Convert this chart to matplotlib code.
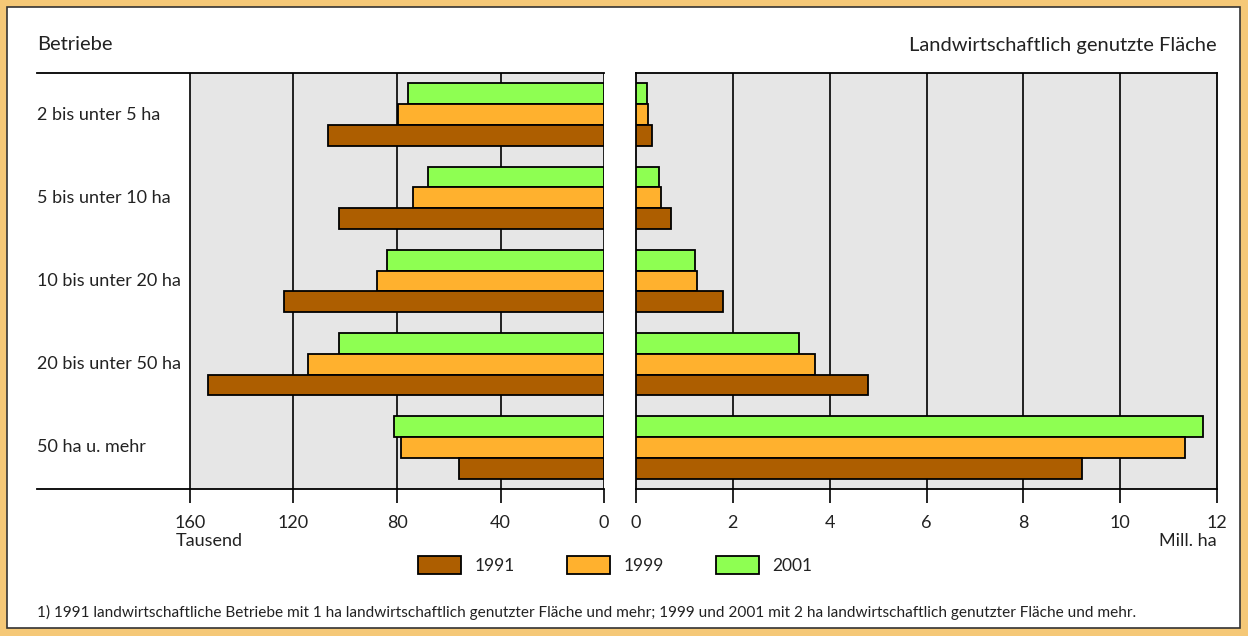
import matplotlib
matplotlib.use('Agg')
import matplotlib.pyplot as plt
import matplotlib.transforms as mtransforms
from matplotlib.patches import Rectangle, Patch
from matplotlib import font_manager as fm

# ---------------- data ----------------
categories = ["2 bis unter 5 ha", "5 bis unter 10 ha", "10 bis unter 20 ha",
              "20 bis unter 50 ha", "50 ha u. mehr"]
years = ["1991", "1999", "2001"]
# Betriebe (Tausend)
betriebe_1991 = [106.8, 102.5, 123.5, 153.2, 56.2]
betriebe_1999 = [79.5, 74.0, 87.6, 114.3, 78.3]
betriebe_2001 = [75.6, 67.9, 84.0, 102.5, 81.2]
# Landwirtschaftlich genutzte Fläche (Mill. ha)
flaeche_1991 = [0.33, 0.73, 1.80, 4.80, 9.21]
flaeche_1999 = [0.245, 0.51, 1.27, 3.69, 11.33]
flaeche_2001 = [0.23, 0.47, 1.22, 3.36, 11.71]
left_ticks = [160, 120, 80, 40, 0]
right_ticks = [0, 2, 4, 6, 8, 10, 12]
footnote = ("1) 1991 landwirtschaftliche Betriebe mit 1 ha landwirtschaftlich genutzter "
            "Fläche und mehr; 1999 und 2001 mit 2 ha landwirtschaftlich genutzter Fläche und mehr.")

# ---------------- style ----------------
W, H = 1248, 636
C_BROWN = '#AD5E00'
C_ORANGE = '#FFB12E'
C_GREEN = '#8EFF52'
C_GREY = '#E6E6E6'
C_FRAME = '#F5C877'
C_TEXT = '#222222'


def has_font(name):
    try:
        fm.findfont(fm.FontProperties(family=name), fallback_to_default=False)
        return True
    except Exception:
        return False

main_font = 'Lato' if has_font('Lato') else 'DejaVu Sans'
plt.rcParams['font.family'] = [main_font, 'DejaVu Sans']

fig = plt.figure(figsize=(W / 100, H / 100), dpi=100, facecolor=C_FRAME)
bg = Rectangle((7 / W, 1 - 628 / H), (1240 - 7) / W, (628 - 7) / H,
               transform=fig.transFigure, facecolor='white',
               edgecolor='#333333', lw=1.2, zorder=-10)
fig.patches.append(bg)

def fx(px):
    return px / W

def fy(py):
    return 1 - py / H

axL = fig.add_axes([fx(37), fy(489), 567 / W, 416 / H])
axR = fig.add_axes([fx(636), fy(489), 581 / W, 416 / H])

ypos = list(range(len(categories)))
bh = 0.25
series_left = [(betriebe_2001, C_GREEN, -bh), (betriebe_1999, C_ORANGE, 0.0), (betriebe_1991, C_BROWN, bh)]
series_right = [(flaeche_2001, C_GREEN, -bh), (flaeche_1999, C_ORANGE, 0.0), (flaeche_1991, C_BROWN, bh)]

lw = 1.3
# left panel
axL.set_facecolor('none')
axL.set_xlim(160 + (190 - 37) / ((604 - 190) / 160), 0)
axL.set_ylim(4.5, -0.5)
axL.axvspan(0, 160, color=C_GREY, zorder=0, lw=0)
for t in left_ticks:
    axL.axvline(t, color='black', lw=1.2, zorder=1)
for vals, col, off in series_left:
    axL.barh([y + off for y in ypos], vals, height=bh, color=col,
             edgecolor='black', linewidth=lw, zorder=3)
for s in ['left', 'right']:
    axL.spines[s].set_visible(False)
for s in ['top', 'bottom']:
    axL.spines[s].set_linewidth(1.3)
axL.set_yticks([])
axL.set_xticks(left_ticks)
axL.set_xticklabels([str(t) for t in left_ticks])
trans = mtransforms.blended_transform_factory(axL.transAxes, axL.transData)
for y, cat in zip(ypos, categories):
    axL.text(0.0, y, cat, transform=trans, ha='left', va='center', fontsize=13, color=C_TEXT)

# right panel
axR.set_facecolor(C_GREY)
axR.set_xlim(0, 12)
axR.set_ylim(4.5, -0.5)
for t in right_ticks[1:-1]:
    axR.axvline(t, color='black', lw=1.2, zorder=1)
for vals, col, off in series_right:
    axR.barh([y + off for y in ypos], vals, height=bh, color=col,
             edgecolor='black', linewidth=lw, zorder=3)
for s in axR.spines.values():
    s.set_linewidth(1.3)
axR.set_yticks([])
axR.set_xticks(right_ticks)
axR.set_xticklabels([str(t) for t in right_ticks])

for ax in (axL, axR):
    ax.tick_params(axis='x', direction='out', length=10, width=1.2, pad=9,
                   labelsize=13, labelcolor=C_TEXT)

# texts
fig.text(fx(37), fy(45), "Betriebe", ha='left', va='center', fontsize=14.5, color=C_TEXT)
fig.text(fx(1217), fy(45), "Landwirtschaftlich genutzte Fläche", ha='right', va='center',
         fontsize=14.5, color=C_TEXT)
fig.text(fx(176), fy(541), "Tausend", ha='left', va='center', fontsize=13, color=C_TEXT)
fig.text(fx(1217), fy(541), "Mill. ha", ha='right', va='center', fontsize=13, color=C_TEXT)

# legend
handles = [Patch(facecolor=C_BROWN, edgecolor='black', lw=1.3, label=years[0]),
           Patch(facecolor=C_ORANGE, edgecolor='black', lw=1.3, label=years[1]),
           Patch(facecolor=C_GREEN, edgecolor='black', lw=1.3, label=years[2])]
fig.legend(handles=handles, loc='center', bbox_to_anchor=(fx(615), fy(565)), ncol=3,
           frameon=False, fontsize=12.5, handlelength=2.5, handleheight=1.2,
           columnspacing=3.0, handletextpad=0.75, labelcolor=C_TEXT)

fig.text(fx(37), fy(612), footnote, ha='left', va='center', fontsize=11.1, color=C_TEXT)

fig.savefig('out.png', dpi=100, facecolor=fig.get_facecolor())
